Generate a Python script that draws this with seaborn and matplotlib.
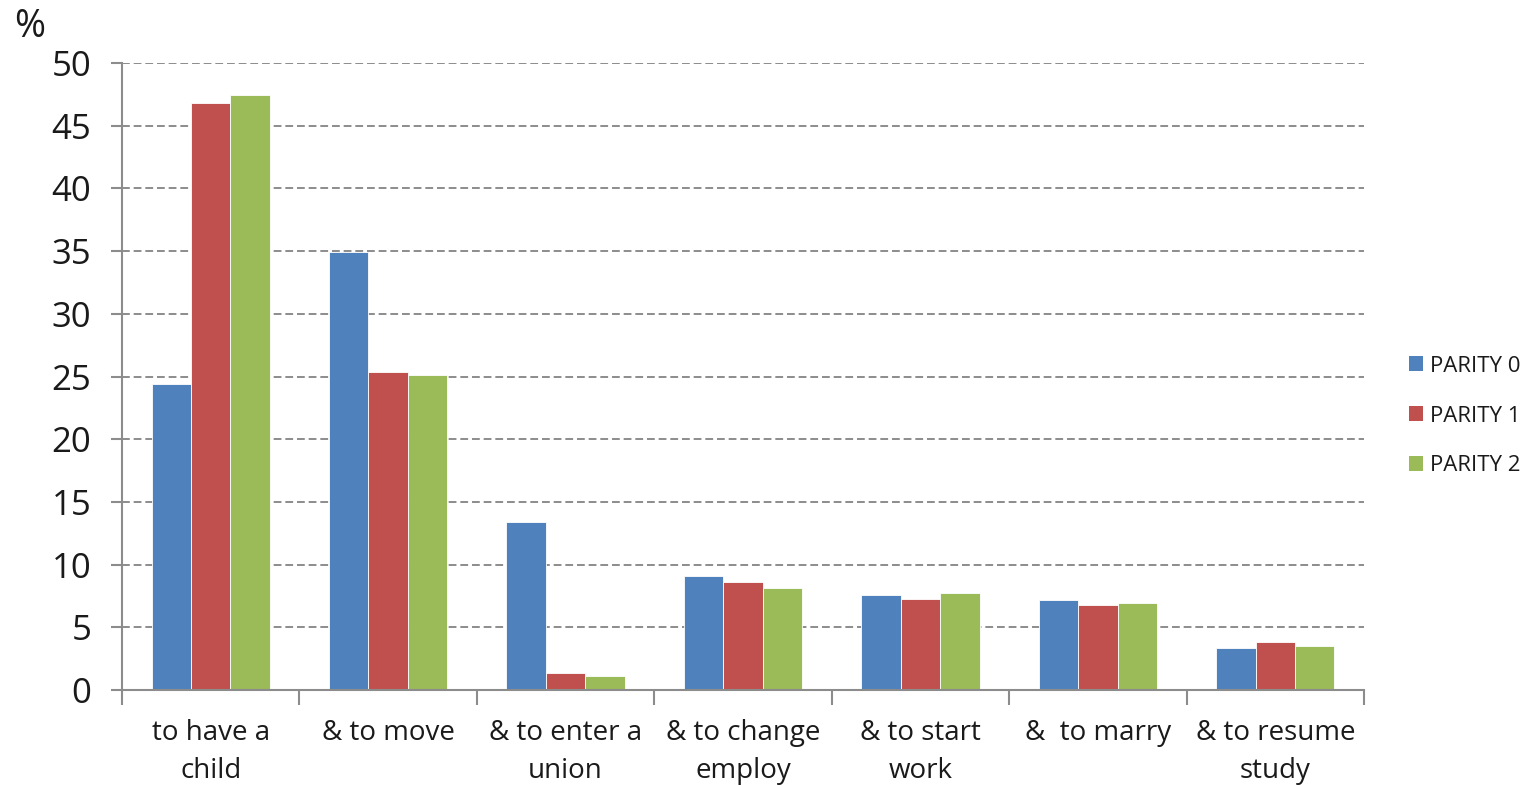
import matplotlib
matplotlib.use("Agg")
import matplotlib.pyplot as plt
from matplotlib.patches import Patch
from matplotlib.ticker import FixedLocator, NullFormatter
import seaborn as sns
import pandas as pd
import numpy as np

categories = ["to have a\nchild", "& to move", "& to enter a\nunion", "& to change\nemploy",
              "& to start\nwork", "&  to marry", "& to resume\nstudy"]
series = ["PARITY 0", "PARITY 1", "PARITY 2"]
parity0 = [24.4, 34.9, 13.4, 9.1, 7.6, 7.2, 3.35]
parity1 = [46.8, 25.35, 1.33, 8.6, 7.25, 6.8, 3.8]
parity2 = [47.45, 25.1, 1.1, 8.1, 7.7, 6.9, 3.5]
yticks = [0, 5, 10, 15, 20, 25, 30, 35, 40, 45, 50]

colors = ["#4F81BD", "#C0504D", "#9BBB59"]

df = pd.DataFrame({
    "category": categories * 3,
    "series": [s for s in series for _ in categories],
    "value": parity0 + parity1 + parity2,
})

sns.set_theme(style="white")
plt.rcParams["font.family"] = ["Open Sans", "DejaVu Sans"]

fig = plt.figure(figsize=(15.3, 7.85), dpi=100)
ax = fig.add_axes([122 / 1530, 1 - 690 / 785, (1364 - 122) / 1530, (690 - 63) / 785])

sns.barplot(data=df, x="category", y="value", hue="series", order=categories,
            hue_order=series, palette=colors, width=0.667, saturation=1,
            edgecolor="#ffffff", linewidth=0.6, ax=ax, legend=False)

ax.set_xlim(-0.5, len(categories) - 0.5)
ax.set_ylim(0, 50)
ax.set_yticks(yticks)
ax.set_yticklabels([str(v) for v in yticks], fontsize=25, color="#1a1a1a")
ax.set_xlabel("")
ax.set_ylabel("")

ax.yaxis.grid(True, linestyle=(0, (4, 2)), color="#8c8c8c", linewidth=1.4)
ax.set_axisbelow(True)

for side in ["top", "right"]:
    ax.spines[side].set_visible(False)
for side in ["left", "bottom"]:
    ax.spines[side].set_color("#8c8c8c")
    ax.spines[side].set_linewidth(1.5)

ax.tick_params(axis="y", which="major", direction="out", length=8, width=1.5,
               color="#8c8c8c", left=True, pad=14)
ax.tick_params(axis="x", which="major", length=0, pad=21, labelsize=20,
               labelcolor="#1a1a1a")
ax.xaxis.set_minor_locator(FixedLocator(np.arange(-0.5, len(categories), 1.0)))
ax.xaxis.set_minor_formatter(NullFormatter())
ax.tick_params(axis="x", which="minor", direction="out", length=11, width=1.5,
               color="#8c8c8c", bottom=True)
for lbl in ax.get_xticklabels():
    lbl.set_linespacing(1.45)

fig.text(30 / 1530, 1 - 27 / 785, "%", fontsize=27, color="#1a1a1a",
         ha="center", va="center")

handles = [Patch(facecolor=c, edgecolor="none") for c in colors]
fig.legend(handles, series, loc="center left", bbox_to_anchor=(1389 / 1530, 1 - 416 / 785),
           frameon=False, fontsize=16, handlelength=0.65, handleheight=0.65,
           handletextpad=0.3, labelspacing=1.3, labelcolor="#1a1a1a")

fig.savefig("out.png", dpi=100)
